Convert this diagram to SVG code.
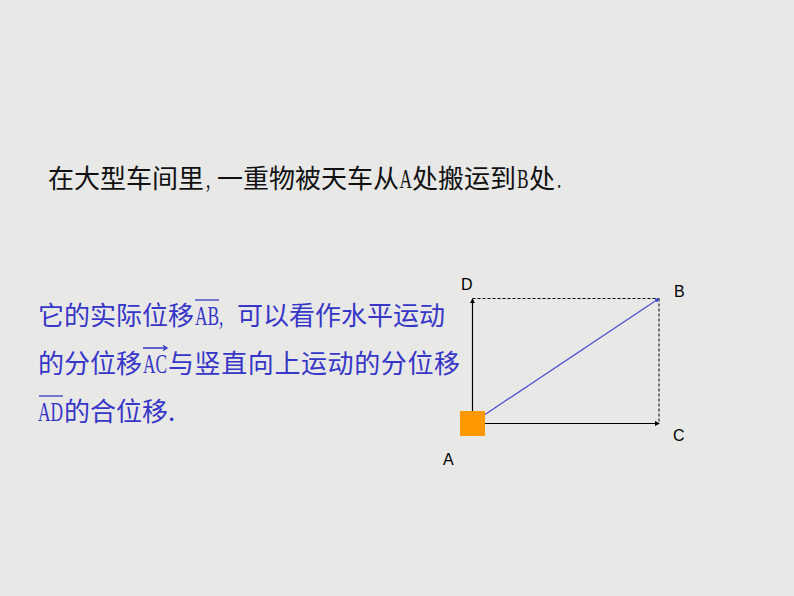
<svg xmlns="http://www.w3.org/2000/svg" width="794" height="596" viewBox="0 0 794 596">
<defs>
<style>
.cjk{font-family:"Noto Sans CJK SC","Noto Sans",sans-serif;font-size:26px}
.lat{font-family:"Liberation Serif",serif;font-size:28px}
.blue{fill:#3636c8}
.blk{fill:#111}
.lbl{font-family:"Liberation Sans",Arial,sans-serif;font-size:16px;fill:#000}
.ov{stroke:#3636c8;stroke-width:1.3;fill:none}
</style>
<marker id="ah" viewBox="0 0 6 6" refX="5" refY="3" markerWidth="5" markerHeight="5" orient="auto" markerUnits="userSpaceOnUse">
<path d="M0,0 L6,3 L0,6 z" fill="context-stroke"/>
</marker>
</defs>
<rect width="794" height="596" fill="#e8e8e6"/>

<g id="title">
<text class="cjk blk" x="48" y="188">在大型车间里</text>
<text class="lat blk" transform="translate(206,188) scale(0.62,1)">,</text>
<text class="cjk blk" x="217" y="188">一重物被天车从</text>
<text class="lat blk" transform="translate(399.5,188) scale(0.62,1)">A</text>
<text class="cjk blk" x="412" y="188">处搬运到</text>
<text class="lat blk" transform="translate(517,188) scale(0.62,1)">B</text>
<text class="cjk blk" x="529" y="188">处</text>
<text class="lat blk" transform="translate(557,188) scale(0.62,1)">.</text>
</g>

<g id="description">
<text class="cjk blue" x="38" y="325">它的实际位移</text>
<text class="lat blue" transform="translate(195,325) scale(0.62,1)">AB,</text>
<text class="cjk blue" x="237" y="325">可以看作水平运动</text>
<path class="ov" d="M195,300 H219"/>
<text class="cjk blue" x="38" y="373">的分位移</text>
<text class="lat blue" transform="translate(143,373) scale(0.62,1)">AC</text>
<text class="cjk blue" x="168" y="373" textLength="292" lengthAdjust="spacing">与竖直向上运动的分位移</text>
<path class="ov" d="M143,348 H167 M163,345.5 L167,348 L163,350.5"/>
<text class="lat blue" transform="translate(38,421) scale(0.62,1)">AD</text>
<text class="cjk blue" x="64" y="421">的合位移.</text>
<path class="ov" d="M39,396 H63"/>
</g>

<g id="connectors" fill="none">
<path d="M472.5,411 V299" stroke="#000" stroke-width="1.2" marker-end="url(#ah)"/>
<path d="M485,423.5 H659" stroke="#000" stroke-width="1.2" marker-end="url(#ah)"/>
<path d="M472.5,298.5 H659" stroke="#000" stroke-width="1" stroke-dasharray="3,2"/>
<path d="M659,298.5 V423" stroke="#000" stroke-width="1" stroke-dasharray="3,2"/>
<path d="M485,414.5 L659,298.5" stroke="#4a4ad0" stroke-width="1.2" marker-end="url(#ah)"/>
</g>

<g id="node-A">
<rect x="460" y="411" width="25" height="25" fill="#ff9900"/>
<text class="lbl" x="443" y="465">A</text>
</g>
<g id="node-B"><text class="lbl" x="674" y="297">B</text></g>
<g id="node-C"><text class="lbl" x="673" y="441">C</text></g>
<g id="node-D"><text class="lbl" x="461" y="290">D</text></g>
</svg>
